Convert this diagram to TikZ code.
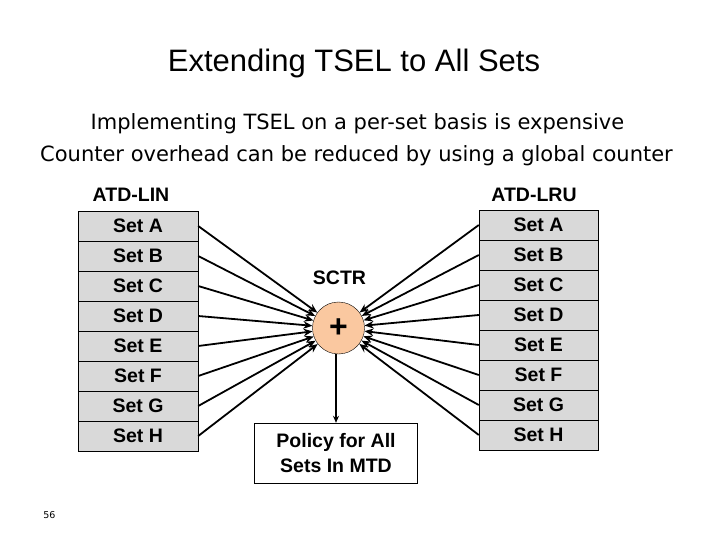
\documentclass[tikz,border=0pt]{standalone}
\usepackage{fontspec}
\setmainfont{Liberation Sans}
\newfontfamily\tahomalike{DejaVu Sans}
\usetikzlibrary{arrows.meta}

\definecolor{cellgray}{RGB}{217,217,217}
\definecolor{peach}{RGB}{250,200,160}

\newcommand*{\rowh}{30}
\newcommand*{\linx}{138}
\newcommand*{\lrux}{538.5}
\newcommand*{\lintop}{226}
\newcommand*{\lrutop}{225}

\begin{document}
\begin{tikzpicture}
[
	x=1pt, y=-1pt,
	setcell/.style={rectangle,draw,fill=cellgray,inner sep=0pt,minimum width=120pt,minimum height=30pt,font=\bfseries\fontsize{19.5}{20}\selectfont},
	sumnode/.style={circle,draw,fill=peach,inner sep=0pt,minimum size=52pt,font=\bfseries\fontsize{32}{32}\selectfont},
	policybox/.style={rectangle,draw,fill=white,minimum width=163pt,minimum height=60pt,align=center,font=\bfseries\fontsize{19.5}{25}\selectfont},
	lbl/.style={font=\bfseries\fontsize{19.5}{20}\selectfont},
	feed/.style={-{Stealth[length=9pt,width=7.5pt]},line width=1.8pt},
]

	\useasboundingbox (0,0) rectangle (720,540);

	% title and text
	\node[anchor=base] (title) at (354,72) {\fontsize{31}{31}\selectfont Extending TSEL to All Sets};
	\node[anchor=base] (line1) at (357.5,130) {\tahomalike\fontsize{21}{21}\selectfont Implementing TSEL on a per-set basis is expensive};
	\node[anchor=base] (line2) at (356.5,162) {\tahomalike\fontsize{21}{21}\selectfont Counter overhead can be reduced by using a global counter};
	\node[anchor=base] (pagenum) at (49.5,518) {\tahomalike\fontsize{9.5}{10}\selectfont 56};

	% tables
	\node[lbl] (atdlin) at (131,195) {ATD-LIN};
	\node[lbl] (atdlru) at (534,195) {ATD-LRU};
	\foreach \s [count=\i] in {A,...,H} {
		\node[setcell] (lin\s) at (\linx,{\lintop+\rowh*(\i-1)}) {Set \s};
		\node[setcell,minimum width=119pt] (lru\s) at (\lrux,{\lrutop+\rowh*(\i-1)}) {Set \s};
	}

	% counter
	\node[sumnode] (sctr) at (338.5,328) {+};
	\node[lbl] (sctrlabel) at (339.5,278) {SCTR};
	\node[policybox] (policy) at (336,453) {Policy for All\\Sets In MTD};

	% arrows
	\foreach \s in {A,...,H} {
		\draw[feed] (lin\s.east) -- (sctr);
		\draw[feed] (lru\s.west) -- (sctr);
	}
	\draw[feed,line width=1.4pt,-{Stealth[length=7pt,width=6pt]}] (sctr.south -| policy.north) -- (policy.north);

\end{tikzpicture}
\end{document}
